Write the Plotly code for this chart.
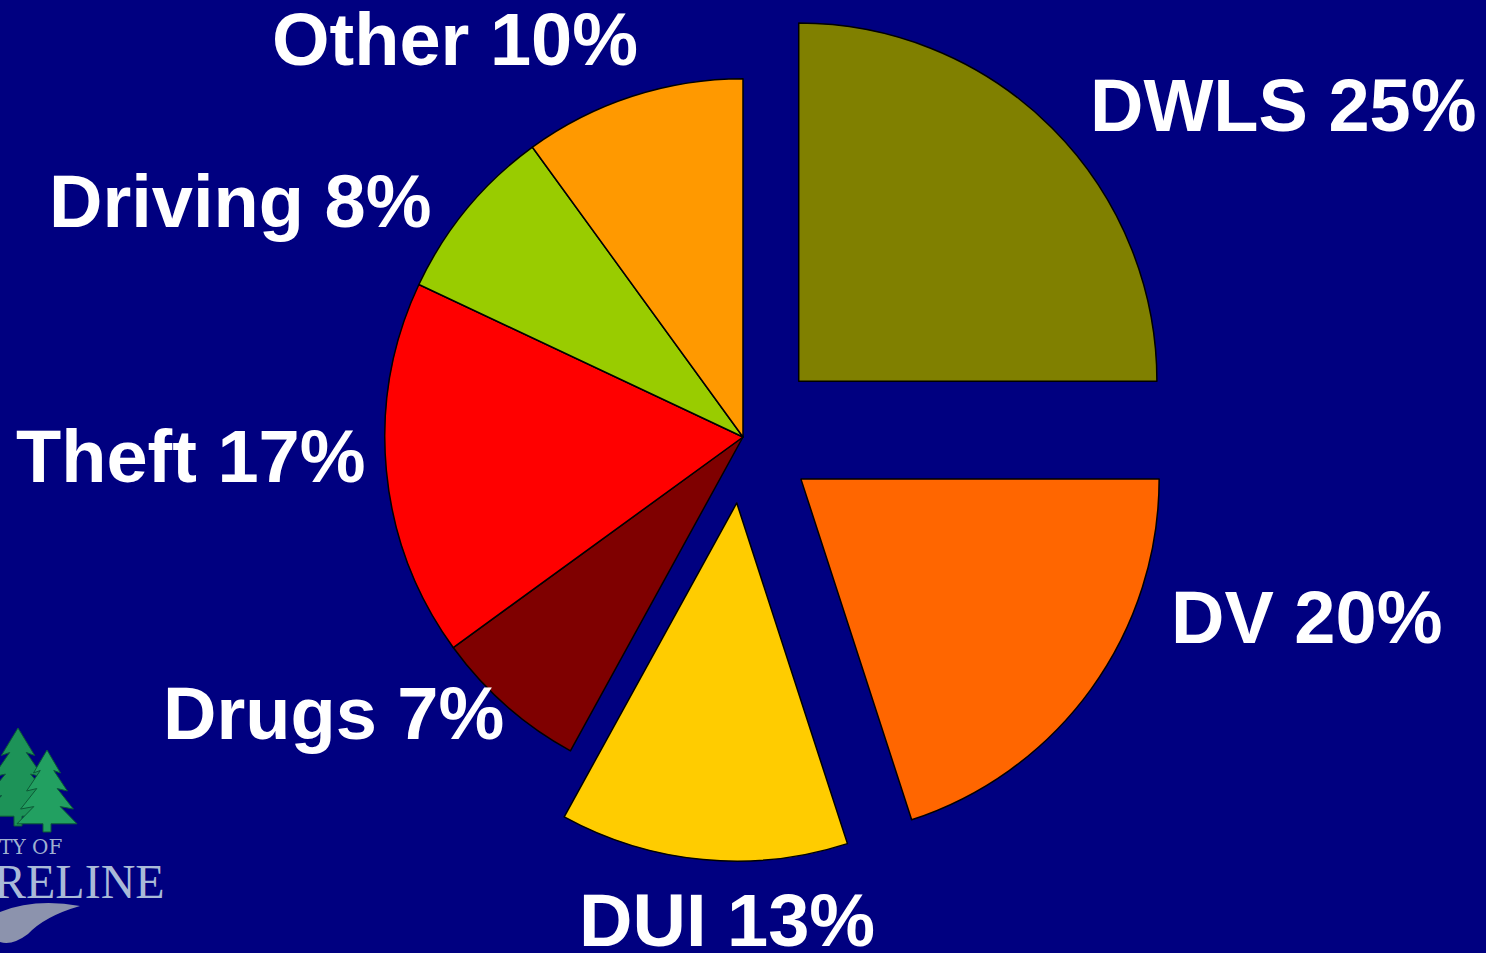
import plotly.graph_objects as go

# data
labels = ["DWLS", "DV", "DUI", "Drugs", "Theft", "Driving", "Other"]
values = [25, 20, 13, 7, 17, 8, 10]
colors = ["#808000", "#FF6600", "#FFCC00", "#7F0000", "#FF0000", "#99CC00", "#FF9900"]
pulls = [0.22, 0.2, 0.185, 0, 0, 0, 0]

W, H = 1486, 953
BG = "#000080"

# label anchor points (pixel centre of the cap height)
label_x = [1283, 1306, 727, 333, 191, 240, 455]
label_y = [105, 617, 920, 713, 456, 201, 40]


def px(x):
    return x / W


def py(y):
    return 1 - y / H


fig = go.Figure()

fig.add_trace(go.Pie(
    labels=labels,
    values=values,
    pull=pulls,
    sort=False,
    direction="clockwise",
    rotation=0,
    textinfo="none",
    marker=dict(colors=colors, line=dict(color="black", width=1.5)),
    domain=dict(x=[0, 1], y=[1 - 874 / H, 1]),
    showlegend=False,
))

annotations = []
for lab, val, x, y in zip(labels, values, label_x, label_y):
    annotations.append(dict(
        text=f"{lab} {val}%",
        x=px(x), y=py(y), xref="paper", yref="paper",
        xanchor="center", yanchor="middle", showarrow=False,
        font=dict(family="Liberation Sans, Arial, sans-serif", size=74,
                  color="white", weight="bold"),
    ))

# city logo in the corner, cut off by the left edge
annotations.append(dict(
    text="CITY OF", x=px(64), y=py(847), xref="paper", yref="paper",
    xanchor="right", yanchor="middle", showarrow=False, borderpad=0,
    font=dict(family="DejaVu Serif, serif", size=20, color="#9fb0d0"),
))
annotations.append(dict(
    text="SHORELINE", x=px(166), y=py(881), xref="paper", yref="paper",
    xanchor="right", yanchor="middle", showarrow=False, borderpad=0,
    font=dict(family="Liberation Serif, serif", size=48, color="#a9bad8"),
))


def tree_path(cx, top, h, w):
    # fir with four tiers of branches
    tiers = [(0.28, 0.45), (0.5, 0.68), (0.72, 0.88), (0.9, 1.0)]
    right = []
    for i, (ty, tw) in enumerate(tiers):
        right.append((cx + w / 2 * tw, top + h * ty))
        if i < len(tiers) - 1:
            right.append((cx + w / 2 * tw * 0.5, top + h * ty - h * 0.03))
    left = [(2 * cx - x, y) for x, y in reversed(right)]
    pts = [(cx, top)] + right
    pts += [(cx + 4, top + h * 0.9), (cx + 4, top + h), (cx - 4, top + h), (cx - 4, top + h * 0.9)]
    pts += left
    return "M " + " L ".join(f"{px(x):.5f},{py(y):.5f}" for x, y in pts) + " Z"


shapes = [
    dict(type="path", path=tree_path(18, 728, 98, 74), xref="paper", yref="paper",
         fillcolor="#1d9358", line=dict(color="#0c5a36", width=1)),
    dict(type="path", path=tree_path(47, 750, 82, 60), xref="paper", yref="paper",
         fillcolor="#22a061", line=dict(color="#0c5a36", width=1)),
    dict(type="path",
         path=f"M {px(0)},{py(912)} Q {px(35)},{py(898)} {px(80)},{py(906)} "
              f"Q {px(45)},{py(916)} {px(28)},{py(934)} Q {px(12)},{py(946)} {px(0)},{py(942)} Z",
         xref="paper", yref="paper", fillcolor="#8c93ad", line=dict(width=0)),
]

fig.update_layout(
    width=W, height=H,
    paper_bgcolor=BG, plot_bgcolor=BG,
    margin=dict(l=0, r=0, t=0, b=0),
    annotations=annotations,
    shapes=shapes,
)

fig.write_html(
    "out.html",
    config={"displayModeBar": False},
    post_script="document.body.style.margin='0';document.body.style.background='#000080';",
)
